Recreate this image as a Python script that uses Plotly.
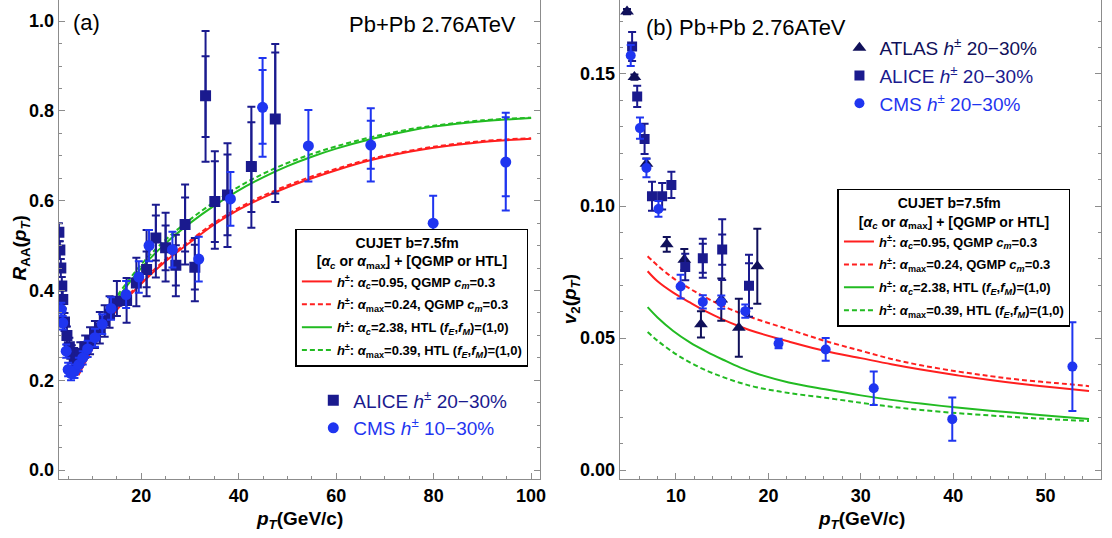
import plotly.graph_objects as go

W, H = 1112, 538

# ---------------- Panel (a): R_AA ----------------
alice_a_x = [3.1, 3.3, 3.5, 3.7, 3.9, 4.25, 4.75, 5.25, 5.75, 6.25, 6.75, 7.5, 8.5, 9.5, 10.5, 11.5, 12.5,
             13.5, 15.0, 17.0, 19.0, 21.1, 23.0, 25.0, 27.1, 29.0, 31.0, 33.2, 35.1, 37.7, 42.6, 47.5]
alice_a_y = [0.53, 0.49, 0.45, 0.41, 0.38, 0.33, 0.30, 0.275, 0.258, 0.252, 0.25, 0.26, 0.275, 0.288, 0.302, 0.317, 0.332,
             0.347, 0.376, 0.378, 0.417, 0.447, 0.517, 0.495, 0.456, 0.547, 0.452, 0.834, 0.598, 0.613, 0.676, 0.782]
alice_a_ep = [0.02, 0.02, 0.02, 0.02, 0.02, 0.02, 0.02, 0.02, 0.02, 0.02, 0.02, 0.025, 0.025, 0.03, 0.03, 0.035, 0.035,
              0.04, 0.045, 0.05, 0.056, 0.088, 0.074, 0.078, 0.068, 0.089, 0.065, 0.144, 0.112, 0.115, 0.133, 0.167]
alice_a_em = [0.02, 0.02, 0.02, 0.02, 0.02, 0.02, 0.02, 0.02, 0.02, 0.02, 0.02, 0.025, 0.025, 0.03, 0.03, 0.035, 0.035,
              0.03, 0.033, 0.05, 0.052, 0.06, 0.088, 0.075, 0.069, 0.089, 0.076, 0.147, 0.105, 0.116, 0.136, 0.185]
alice_a_ip = [0, 0, 0, 0, 0, 0, 0, 0, 0, 0, 0, 0, 0, 0, 0, 0, 0,
              0, 0, 0, 0, 0.04, 0.05, 0.05, 0.045, 0.06, 0.05, 0.088, 0.09, 0.09, 0.099, 0.148]
alice_a_im = [0, 0, 0, 0, 0, 0, 0, 0, 0, 0, 0, 0, 0, 0, 0, 0, 0,
              0, 0, 0, 0, 0.04, 0.05, 0.05, 0.045, 0.06, 0.05, 0.092, 0.09, 0.09, 0.101, 0.166]

cms_a_x = [3.6, 3.9, 4.6, 5.0, 5.6, 6.3, 7.2, 8.0, 9.0, 10.5, 12.0, 13.8, 16.9, 19.5, 21.6, 26.4, 31.8,
           38.3, 44.9, 54.3, 67.1, 79.9, 94.8]
cms_a_y = [0.358, 0.328, 0.265, 0.224, 0.215, 0.22, 0.235, 0.25, 0.27, 0.295, 0.325, 0.36, 0.391, 0.43, 0.50, 0.491, 0.47,
           0.604, 0.808, 0.722, 0.724, 0.55, 0.686]
cms_a_ep = [0.015, 0.015, 0.015, 0.015, 0.015, 0.015, 0.015, 0.015, 0.018, 0.02, 0.022, 0.025, 0.03, 0.035, 0.035, 0.04, 0.05,
            0.06, 0.11, 0.08, 0.082, 0.061, 0.11]
cms_a_em = [0.015, 0.015, 0.015, 0.015, 0.015, 0.015, 0.015, 0.015, 0.018, 0.02, 0.022, 0.025, 0.03, 0.035, 0.035, 0.04, 0.05,
            0.06, 0.11, 0.079, 0.081, 0.06, 0.108]
cms_a_ip = [0, 0, 0, 0, 0, 0, 0, 0, 0, 0, 0, 0, 0, 0, 0, 0, 0, 0, 0.083, 0, 0.054, 0, 0.10]
cms_a_im = [0, 0, 0, 0, 0, 0, 0, 0, 0, 0, 0, 0, 0, 0, 0, 0, 0, 0, 0.081, 0, 0.053, 0, 0.076]

curve_a_x = [7.1, 10, 12.5, 15, 20, 25, 30, 35, 40, 45, 50, 55, 60, 67, 75, 80, 90, 100]
red_solid_a = [0.211, 0.270, 0.318, 0.357, 0.415, 0.465, 0.507, 0.547, 0.580, 0.607, 0.630, 0.650, 0.668, 0.690,
               0.709, 0.718, 0.731, 0.738]
red_dash_a = [0.213, 0.273, 0.321, 0.360, 0.419, 0.469, 0.511, 0.551, 0.584, 0.611, 0.634, 0.654, 0.671, 0.693,
              0.711, 0.720, 0.733, 0.739]
green_solid_a = [0.231, 0.290, 0.338, 0.380, 0.450, 0.505, 0.550, 0.589, 0.623, 0.652, 0.677, 0.698, 0.716, 0.737,
                 0.756, 0.765, 0.777, 0.784]
green_dash_a = [0.235, 0.296, 0.345, 0.387, 0.458, 0.513, 0.558, 0.597, 0.631, 0.660, 0.684, 0.704, 0.721, 0.741,
                0.759, 0.767, 0.779, 0.785]

# ---------------- Panel (b): v2 ----------------
atlas_b_x = [4.7, 5.5, 6.8, 9.0, 10.9, 12.7, 14.9, 16.8, 18.8]
atlas_b_y = [0.1736, 0.1488, 0.116, 0.0855, 0.0797, 0.0552, 0.0646, 0.0539, 0.0772]
atlas_b_e = [0.001, 0.001, 0.002, 0.0028, 0.004, 0.005, 0.008, 0.011, 0.0142]

alice_b_x = [5.25, 5.8, 6.6, 7.4, 8.5, 9.5, 11.0, 12.9, 15.0, 17.9]
alice_b_y = [0.1604, 0.1415, 0.1254, 0.1037, 0.1037, 0.108, 0.0769, 0.0802, 0.0835, 0.0698]
alice_b_e = [0.0055, 0.004, 0.0057, 0.0055, 0.005, 0.005, 0.005, 0.0074, 0.0115, 0.0117]
alice_b_i = [0, 0, 0, 0, 0, 0, 0, 0.0055, 0.0057, 0.0085]

cms_b_x = [5.1, 6.1, 6.8, 8.1, 10.5, 12.9, 14.9, 17.5, 21.1, 26.2, 31.4, 39.9, 52.9]
cms_b_y = [0.157, 0.1295, 0.1144, 0.0989, 0.0695, 0.0637, 0.0636, 0.0602, 0.0479, 0.0457, 0.031, 0.0193, 0.0392]
cms_b_e = [0.004, 0.004, 0.0035, 0.003, 0.0045, 0.0025, 0.0025, 0.0025, 0.0018, 0.0043, 0.0063, 0.0082, 0.0168]

curve_b_x = [6.93, 8, 9.7, 11.5, 13.3, 15.1, 16.9, 18.7, 22.2, 26.15, 30, 33.3, 36.5, 40.4, 44, 47, 51, 54.7]
red_solid_b = [0.0753, 0.0715, 0.0672, 0.0635, 0.0600, 0.0570, 0.0544, 0.0522, 0.0487, 0.0451, 0.0424, 0.0401,
               0.0381, 0.0359, 0.0341, 0.0328, 0.0313, 0.0300]
red_dash_b = [0.0810, 0.0775, 0.0727, 0.0687, 0.0652, 0.0621, 0.0595, 0.0572, 0.0533, 0.0489, 0.0452, 0.0421,
              0.0397, 0.0374, 0.0356, 0.0343, 0.0330, 0.0318]
green_solid_b = [0.0617, 0.0578, 0.0527, 0.0484, 0.0449, 0.0418, 0.0389, 0.0366, 0.0332, 0.0306, 0.0283, 0.0266,
                 0.0252, 0.0237, 0.0225, 0.0216, 0.0204, 0.0194]
green_dash_b = [0.0523, 0.0490, 0.0446, 0.0408, 0.0377, 0.0352, 0.0331, 0.0314, 0.0292, 0.0274, 0.0255, 0.0240,
                0.0228, 0.0216, 0.0207, 0.0200, 0.0192, 0.0186]

curve_names = [
    "<b><i>h</i><sup>±</sup>: <i>α</i><sub><i>c</i></sub>=0.95, QGMP <i>c</i><sub><i>m</i></sub>=0.3</b>",
    "<b><i>h</i><sup>±</sup>: <i>α</i><sub>max</sub>=0.24, QGMP <i>c</i><sub><i>m</i></sub>=0.3</b>",
    "<b><i>h</i><sup>±</sup>: <i>α</i><sub><i>c</i></sub>=2.38, HTL (<i>f</i><sub><i>E</i></sub>,<i>f</i><sub><i>M</i></sub>)=(1,0)</b>",
    "<b><i>h</i><sup>±</sup>: <i>α</i><sub>max</sub>=0.39, HTL (<i>f</i><sub><i>E</i></sub>,<i>f</i><sub><i>M</i></sub>)=(1,0)</b>",
]
legend_title = ("<b>" + "&nbsp;" * 10 + "CUJET b=7.5fm</b><br>"
                "<b>[<i>α</i><sub><i>c</i></sub> or <i>α</i><sub>max</sub>] + [QGMP or HTL]</b>")

RED = "#ff1f1f"
GREEN = "#22bb22"
NAVY = "#1a1a8e"
BLUE = "#1f35f0"
DARK = "#10105a"
FONT = "Liberation Sans"

fig = go.Figure()


def add_points(x, y, ep, em, color, symbol, size, xa, ya, name, legend, inner_p=None, inner_m=None):
    if inner_p is not None:
        fig.add_trace(go.Scatter(
            x=x, y=y, mode="markers", xaxis=xa, yaxis=ya, showlegend=False, hoverinfo="skip",
            marker=dict(size=size, color=color, opacity=0),
            error_y=dict(type="data", array=inner_p, arrayminus=inner_m, color=color, thickness=2, width=4)))
    fig.add_trace(go.Scatter(
        x=x, y=y, mode="markers", xaxis=xa, yaxis=ya, name=name, legend=legend,
        marker=dict(size=size, color=color, symbol=symbol),
        error_y=dict(type="data", array=ep, arrayminus=em, color=color, thickness=2, width=4)))


# Curves panel (a)
curves_a = [(red_solid_a, RED, "solid"), (red_dash_a, RED, "5px,3px"),
            (green_solid_a, GREEN, "solid"), (green_dash_a, GREEN, "5px,3px")]
for i, (ys, c, d) in enumerate(curves_a):
    fig.add_trace(go.Scatter(x=curve_a_x, y=ys, mode="lines", xaxis="x", yaxis="y",
                             line=dict(color=c, width=2, dash=d, shape="spline"),
                             name=curve_names[i], legend="legend", legendgroup="a%d" % i))

add_points(alice_a_x, alice_a_y, alice_a_ep, alice_a_em, NAVY, "square", 11, "x", "y",
           "<span style='color:%s'>ALICE <i>h</i><sup>±</sup> 20−30%%</span>" % NAVY, "legend3",
           alice_a_ip, alice_a_im)
add_points(cms_a_x, cms_a_y, cms_a_ep, cms_a_em, BLUE, "circle", 11, "x", "y",
           "<span style='color:%s'>CMS <i>h</i><sup>±</sup> 10−30%%</span>" % BLUE, "legend3",
           cms_a_ip, cms_a_im)

# Curves panel (b)
curves_b = [(red_solid_b, RED, "solid"), (red_dash_b, RED, "5px,3px"),
            (green_solid_b, GREEN, "solid"), (green_dash_b, GREEN, "5px,3px")]
for i, (ys, c, d) in enumerate(curves_b):
    fig.add_trace(go.Scatter(x=curve_b_x, y=ys, mode="lines", xaxis="x2", yaxis="y2",
                             line=dict(color=c, width=2, dash=d, shape="spline"),
                             name=curve_names[i], legend="legend2", legendgroup="b%d" % i))

add_points(atlas_b_x, atlas_b_y, atlas_b_e, atlas_b_e, DARK, "triangle-up", 12, "x2", "y2",
           "<span style='color:%s'>ATLAS <i>h</i><sup>±</sup> 20−30%%</span>" % DARK, "legend4")
add_points(alice_b_x, alice_b_y, alice_b_e, alice_b_e, NAVY, "square", 10, "x2", "y2",
           "<span style='color:%s'>ALICE <i>h</i><sup>±</sup> 20−30%%</span>" % NAVY, "legend4",
           alice_b_i, alice_b_i)
add_points(cms_b_x, cms_b_y, cms_b_e, cms_b_e, BLUE, "circle", 10, "x2", "y2",
           "<span style='color:%s'>CMS <i>h</i><sup>±</sup> 20−30%%</span>" % BLUE, "legend4")


def px(x):
    return x / W


def py(y):
    return 1 - y / H


axis_common = dict(showline=True, linecolor="#8c8c8c", linewidth=1.2, ticks="inside", ticklen=6,
                   tickcolor="#8c8c8c", tickwidth=1, showgrid=False, zeroline=False,
                   tickfont=dict(family=FONT, size=18, color="black", weight="bold"))

ydom = [py(480), 1.0]

legend_curves = dict(bgcolor="white", bordercolor="black", borderwidth=1.5,
                     font=dict(family=FONT, size=13, color="black"),
                     title=dict(text=legend_title, side="top center",
                                font=dict(family=FONT, size=14, color="black")),
                     tracegroupgap=3, xanchor="left", yanchor="top", itemwidth=30)

fig.update_layout(
    width=W, height=H, margin=dict(l=0, r=0, t=0, b=0),
    plot_bgcolor="white", paper_bgcolor="white",
    xaxis=dict(domain=[px(59), px(543)], range=[3.06, 101.84], tickvals=[20, 40, 60, 80, 100],
               minor=dict(dtick=5, tick0=0, ticklen=3, ticks="inside", tickcolor="#8c8c8c"),
               anchor="y", **axis_common),
    yaxis=dict(domain=ydom, range=[-0.02, 1.047], tickvals=[0, 0.2, 0.4, 0.6, 0.8, 1.0], tickformat=".1f",
               minor=dict(dtick=0.05, tick0=0, ticklen=3, ticks="inside", tickcolor="#8c8c8c"),
               mirror="ticks", anchor="x", **axis_common),
    xaxis2=dict(domain=[px(623), px(1107)], range=[3.9, 56.0], tickvals=[10, 20, 30, 40, 50],
                minor=dict(dtick=2, tick0=0, ticklen=3, ticks="inside", tickcolor="#8c8c8c"),
                anchor="y2", **axis_common),
    yaxis2=dict(domain=ydom, range=[-0.0034, 0.178], tickvals=[0, 0.05, 0.10, 0.15], tickformat=".2f",
                minor=dict(dtick=0.01, tick0=0, ticklen=3, ticks="inside", tickcolor="#8c8c8c"),
                mirror="ticks", anchor="x2", **axis_common),
    legend=dict(x=px(297), y=py(229), **legend_curves),
    legend2=dict(x=px(842), y=py(189), **legend_curves),
    legend3=dict(x=px(315), y=py(382), xanchor="left", yanchor="top", bgcolor="rgba(0,0,0,0)",
                 font=dict(family=FONT, size=19)),
    legend4=dict(x=px(844), y=py(29), xanchor="left", yanchor="top", bgcolor="rgba(0,0,0,0)",
                 font=dict(family=FONT, size=19)),
    showlegend=True,
)

ann_font = dict(family=FONT, size=22, color="black")
title_font = dict(family=FONT, size=19, color="black")
annotations = [
    dict(text="(a)", x=px(71), y=py(23), xanchor="left", yanchor="middle", font=ann_font),
    dict(text="Pb+Pb 2.76ATeV", x=px(521), y=py(25), xanchor="right", yanchor="middle", font=ann_font),
    dict(text="(b) Pb+Pb 2.76ATeV", x=px(647), y=py(28), xanchor="left", yanchor="middle", font=ann_font),
    dict(text="<b><i>R</i><sub>AA</sub>(<i>p</i><sub><i>T</i></sub>)</b>", x=px(21), y=py(248),
         textangle=-90, xanchor="center", yanchor="middle", font=title_font),
    dict(text="<b><i>v</i><sub>2</sub>(<i>p</i><sub><i>T</i></sub>)</b>", x=px(575), y=py(300),
         textangle=-90, xanchor="center", yanchor="middle", font=title_font),
    dict(text="<b><i>p</i><sub><i>T</i></sub>(GeV/c)</b>", x=px(301), y=py(521),
         xanchor="center", yanchor="middle", font=title_font),
    dict(text="<b><i>p</i><sub><i>T</i></sub>(GeV/c)</b>", x=px(866), y=py(521),
         xanchor="center", yanchor="middle", font=title_font),
]
for a in annotations:
    a.update(xref="paper", yref="paper", showarrow=False)
fig.update_layout(annotations=annotations)

fig.write_html("out.html")
